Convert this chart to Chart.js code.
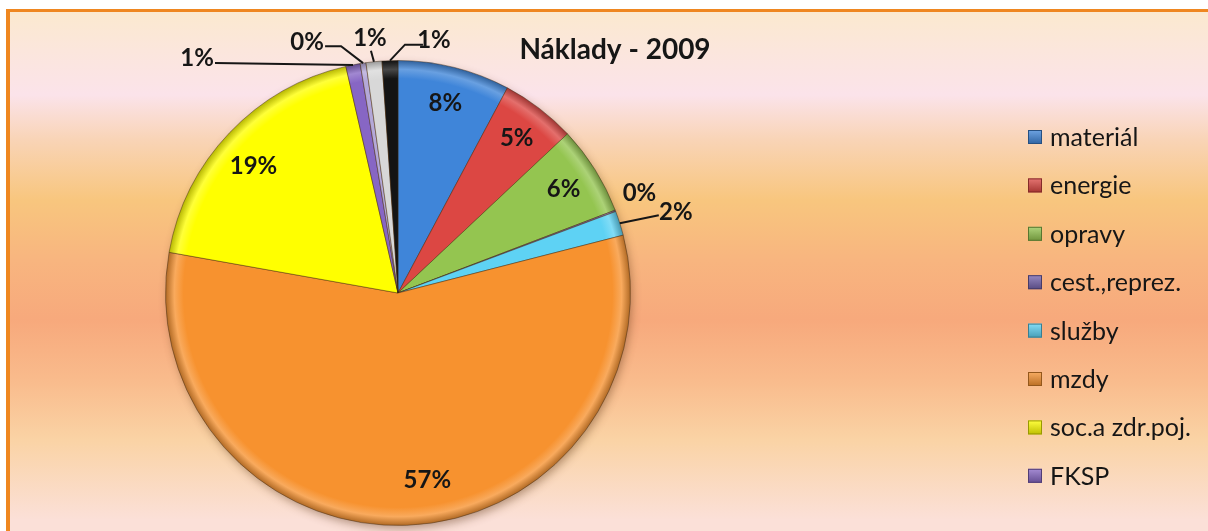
<!DOCTYPE html>
<html>
<head>
<meta charset="utf-8">
<script src="https://cdn.jsdelivr.net/npm/chart.js@4.4.0/dist/chart.umd.min.js"></script>
<style>
  html, body { margin: 0; padding: 0; background: #fff; width: 1208px; height: 531px; overflow: hidden; }
  #frame {
    position: absolute; left: 6px; top: 9px; width: 1198px; height: 522px; overflow: hidden;
    border-top: 3px solid #ef8720; border-left: 4px solid #ef8720;
    background: linear-gradient(to bottom, #fbe9cf 0px, #fbe6dc 38px, #fbe3ea 83px, #f9d4b6 128px,
      #f8c67e 188px, #f8b57f 248px, #f7a97c 308px, #f9bb8c 368px, #fad3a5 428px, #fbe0d8 508px);
  }
  #chart { position: absolute; left: 0; top: 0; }
</style>
</head>
<body>
<div id="frame"><canvas id="chart" width="1198" height="520"></canvas></div>
<script>
  // --- data ---
  const title = 'Náklady - 2009';
  const labels = ['materiál', 'energie', 'opravy', 'cest.,reprez.', 'služby', 'mzdy', 'soc.a zdr.poj.', 'FKSP',
                  '(neuvedeno 1)', '(neuvedeno 2)', '(neuvedeno 3)'];
  const values = [7.8, 5.2, 6.2, 0.1, 1.7, 56.8, 18.6, 1.0, 0.4, 1.1, 1.1];
  const colors = ['#3f85d9', '#dc4743', '#94c550', '#7462ad', '#5ed2f4', '#f7922f', '#ffff00', '#8766c4',
                  '#b4a8d8', '#d8d8d8', '#141414'];
  const legendCount = 8; // the legend in the picture only lists the first 8

  // label placement: small slices get an outside label (offset from the slice edge) + leader line
  const outside = {
    3: { dx: 24, dy: -18 },
    4: { dx: 56, dy: -11, leader: [[39, -8]] },
    7: { dx: -156, dy: -7, leader: [[-138, -2]] },
    8: { dx: -56, dy: -21, leader: [[-22, -17], [-38, -17]] },
    9: { dx: -4, dy: -23, leader: [[-3, -11]] },
    10: { dx: 44, dy: -20, leader: [[15, -16], [33, -16]] }
  };
  const insideAdj = { 5: [22, -8], 6: [-3, 8] };

  const FONT = 'Lato, "Open Sans", sans-serif';
  const INK = '#161616';

  /** Mix a hex colour towards white (amt>0) or black (amt<0). */
  function shade(hex, amt) {
    const n = parseInt(hex.slice(1), 16);
    const ch = [n >> 16, (n >> 8) & 255, n & 255].map((v) => {
      const t = amt > 0 ? 255 : 0;
      return Math.round(v + (t - v) * Math.abs(amt));
    });
    return 'rgb(' + ch.join(',') + ')';
  }

  /** Flat fill with a small bevel near the rim, like the Excel 3D-ish slices. */
  function sliceFill(c) {
    const base = colors[c.dataIndex];
    const area = c.chart.chartArea;
    if (!area) return base;
    const cx = (area.left + area.right) / 2, cy = (area.top + area.bottom) / 2;
    const r = Math.min(area.width, area.height) / 2;
    const g = c.chart.ctx.createRadialGradient(cx, cy, 0, cx, cy, r);
    g.addColorStop(0, base);
    g.addColorStop(0.92, base);
    g.addColorStop(0.96, shade(base, 0.22));
    g.addColorStop(1, shade(base, -0.3));
    return g;
  }

  const shadowPlugin = {
    id: 'pieShadow',
    beforeDatasetsDraw(chart) {
      const arc = chart.getDatasetMeta(0).data[0];
      if (!arc) return;
      const { x, y, outerRadius } = arc.getProps(['x', 'y', 'outerRadius'], true);
      const ctx = chart.ctx;
      ctx.save();
      ctx.shadowColor = 'rgba(90,50,20,.45)';
      ctx.shadowBlur = 10;
      ctx.shadowOffsetX = 2;
      ctx.shadowOffsetY = 4;
      ctx.beginPath();
      ctx.arc(x, y, outerRadius - 1, 0, Math.PI * 2);
      ctx.fillStyle = colors[5];
      ctx.fill();
      ctx.restore();
    }
  };

  const labelPlugin = {
    id: 'sliceLabels',
    afterDatasetsDraw(chart) {
      const ctx = chart.ctx;
      const meta = chart.getDatasetMeta(0);
      const total = values.reduce((a, b) => a + b, 0);
      ctx.save();
      ctx.font = 'bold 24px ' + FONT;
      ctx.fillStyle = INK;
      ctx.strokeStyle = INK;
      ctx.lineWidth = 2;
      ctx.textAlign = 'center';
      ctx.textBaseline = 'middle';
      meta.data.forEach((arc, i) => {
        const { x, y, startAngle, endAngle, outerRadius } =
          arc.getProps(['x', 'y', 'startAngle', 'endAngle', 'outerRadius'], true);
        const mid = (startAngle + endAngle) / 2;
        const txt = Math.round(values[i] / total * 100) + '%';
        const o = outside[i];
        if (o) {
          const ex = x + Math.cos(mid) * outerRadius, ey = y + Math.sin(mid) * outerRadius;
          if (o.leader) {
            ctx.beginPath();
            ctx.moveTo(ex, ey);
            o.leader.forEach((p) => ctx.lineTo(ex + p[0], ey + p[1]));
            ctx.stroke();
          }
          ctx.fillText(txt, ex + o.dx, ey + o.dy);
        } else {
          const r = outerRadius * 0.84, adj = insideAdj[i] || [0, 0];
          ctx.fillText(txt, x + Math.cos(mid) * r + adj[0], y + Math.sin(mid) * r + adj[1]);
        }
      });
      ctx.restore();
    }
  };

  // title + legend drawn by hand so they can sit where Excel put them
  const decorPlugin = {
    id: 'decor',
    afterDraw(chart) {
      const ctx = chart.ctx;
      ctx.save();
      ctx.fillStyle = INK;
      ctx.font = 'bold 28px ' + FONT;
      ctx.textAlign = 'center';
      ctx.textBaseline = 'middle';
      ctx.fillText(title, 605, 38);

      ctx.font = '25px ' + FONT;
      ctx.textAlign = 'left';
      for (let i = 0; i < legendCount; i++) {
        const cy = 125 + i * 48.4;
        const c = colors[i];
        const g = ctx.createLinearGradient(0, cy - 7, 0, cy + 7);
        g.addColorStop(0, shade(c, 0.25));
        g.addColorStop(1, shade(c, -0.25));
        ctx.fillStyle = g;
        ctx.fillRect(1018, cy - 7, 14, 14);
        ctx.strokeStyle = shade(c, -0.4);
        ctx.lineWidth = 1;
        ctx.strokeRect(1018.5, cy - 6.5, 13, 13);
        ctx.fillStyle = INK;
        ctx.fillText(labels[i], 1040, cy + 1);
      }
      ctx.restore();
    }
  };

  new Chart(document.getElementById('chart'), {
    type: 'pie',
    data: {
      labels,
      datasets: [{
        data: values,
        backgroundColor: sliceFill,
        borderColor: 'rgba(60,40,20,.45)',
        borderWidth: 1
      }]
    },
    options: {
      responsive: false,
      animation: false,
      layout: { padding: { left: 155, right: 577, top: 48, bottom: 6 } },
      plugins: { legend: { display: false }, title: { display: false }, tooltip: { enabled: false } }
    },
    plugins: [shadowPlugin, labelPlugin, decorPlugin]
  });
</script>
</body>
</html>
